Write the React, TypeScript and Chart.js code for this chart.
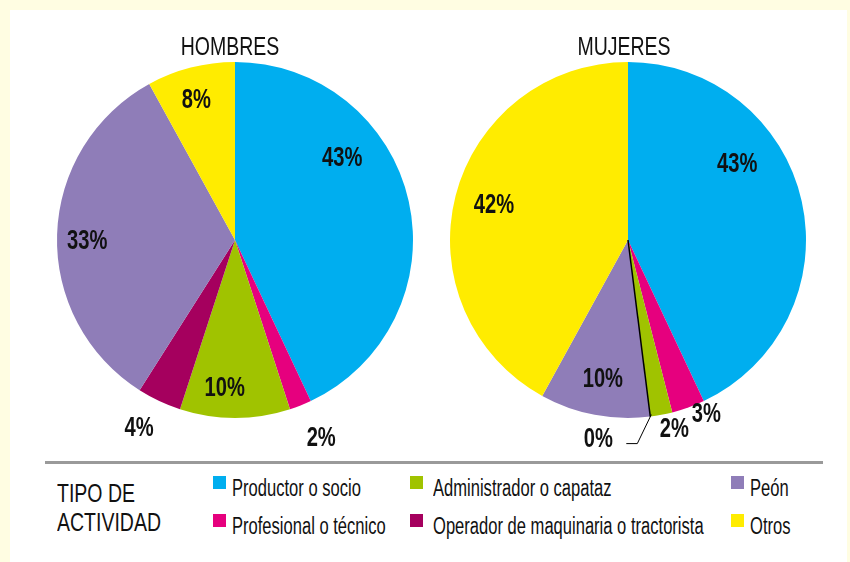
import React, { useEffect, useRef } from "react";
import { Chart, registerables } from "chart.js";

Chart.register(...registerables);

// ---------- data ----------
const categories = [
  "Productor o socio",
  "Profesional o técnico",
  "Administrador o capataz",
  "Operador de maquinaria o tractorista",
  "Peón",
  "Otros",
];
const hombresValues = [43, 2, 10, 4, 33, 8];
const mujeresValues = [43, 3, 2, 0, 10, 42];
const colors = ["#00AEEF", "#E6007E", "#A0C300", "#A5005E", "#8F7DB8", "#FFEC00"];
const chartTitles = ["HOMBRES", "MUJERES"];
const legendTitle = ["TIPO DE", "ACTIVIDAD"];
// legend layout order (row-major, 3 columns)
const legendOrder = [0, 2, 4, 1, 3, 5];

// label placement: angle shift (deg) from slice middle, radius factor
const hombresPlace = [
  { dA: -25, rF: 0.76 },
  { dA: -2, rF: 1.21 },
  { dA: 4, rF: 0.83 },
  { dA: 2, rF: 1.18 },
  { dA: -2, rF: 0.83 },
  { dA: -1, rF: 0.82 },
];
const mujeresPlace = [
  { dA: -22.5, rF: 0.75 },
  { dA: -4.5, rF: 1.07 },
  { dA: -3, rF: 1.09 },
  { leader: true },
  { dA: -0.5, rF: 0.79 },
  { dA: 0.7, rF: 0.78 },
];

const FONT = '"Liberation Sans", Arial, sans-serif';

const labelPlugin = {
  id: "pctLabels",
  afterDatasetsDraw(chart: any, _args: any, opts: any) {
    const ctx = chart.ctx as CanvasRenderingContext2D;
    const meta = chart.getDatasetMeta(0);
    const data = chart.data.datasets[0].data as number[];
    const place = opts.place as any[];
    meta.data.forEach((arc: any, i: number) => {
      const p = arc.getProps(["x", "y", "startAngle", "endAngle", "outerRadius"], true);
      const cfg = place[i];
      let x: number, y: number;
      let align: CanvasTextAlign = "center";
      if (data[i] === 0) {
        // zero slice drawn as a thin black line
        const a = p.startAngle;
        const ex = p.x + Math.cos(a) * p.outerRadius;
        const ey = p.y + Math.sin(a) * p.outerRadius;
        ctx.save();
        ctx.strokeStyle = "#000";
        ctx.lineWidth = 1.5;
        ctx.beginPath();
        ctx.moveTo(p.x, p.y);
        ctx.lineTo(ex, ey);
        ctx.stroke();
        if (cfg.leader) {
          ctx.lineWidth = 1;
          ctx.beginPath();
          ctx.moveTo(ex + 1, ey - 2);
          ctx.lineTo(ex - 13, ey + 27);
          ctx.lineTo(ex - 24, ey + 27);
          ctx.stroke();
        }
        ctx.restore();
        x = ex - 52;
        y = ey + 22;
      } else {
        const mid = (p.startAngle + p.endAngle) / 2;
        const a = mid + (cfg.dA * Math.PI) / 180;
        const r = p.outerRadius * cfg.rF;
        x = p.x + Math.cos(a) * r;
        y = p.y + Math.sin(a) * r;
      }
      ctx.save();
      ctx.translate(x, y);
      ctx.scale(0.72, 1);
      ctx.font = `bold 28px ${FONT}`;
      ctx.fillStyle = "#111";
      ctx.textAlign = align;
      ctx.textBaseline = "middle";
      ctx.fillText(`${data[i]}%`, 0, 1);
      ctx.restore();
    });
  },
};

function PieCanvas({ values, place, left }: { values: number[]; place: any[]; left: number }) {
  const ref = useRef<HTMLCanvasElement>(null);
  useEffect(() => {
    if (!ref.current) return;
    const chart = new Chart(ref.current, {
      type: "pie",
      data: {
        labels: categories,
        datasets: [
          {
            data: values,
            backgroundColor: colors,
            borderWidth: 0,
          },
        ],
      },
      options: {
        responsive: false,
        animation: false,
        events: [],
        layout: { padding: { left: 17, right: 17, top: 42, bottom: 37 } },
        plugins: {
          legend: { display: false },
          tooltip: { enabled: false },
          pctLabels: { place },
        } as any,
      },
      plugins: [labelPlugin as any],
    });
    return () => chart.destroy();
  }, []);
  return (
    <canvas
      ref={ref}
      width={390}
      height={435}
      style={{ position: "absolute", left, top: 20, width: 390, height: 435 }}
    />
  );
}

const scaled = (s: number): React.CSSProperties => ({
  position: "absolute",
  whiteSpace: "nowrap",
  transform: `scaleX(${s})`,
  transformOrigin: "left top",
  fontFamily: FONT,
  color: "#111",
});

export default function App() {
  const legendCols = [213, 410, 731];
  const legendRows = [476, 514];
  return (
    <div
      style={{
        position: "fixed",
        left: 0,
        top: 0,
        width: 850,
        height: 562,
        background: "#FFFDE2",
        overflow: "hidden",
      }}
    >
      <div
        style={{
          position: "absolute",
          left: 10,
          top: 10,
          width: 837,
          height: 552,
          background: "#FFFFFF",
        }}
      />
      <PieCanvas values={hombresValues} place={hombresPlace} left={40} />
      <PieCanvas values={mujeresValues} place={mujeresPlace} left={433} />
      {chartTitles.map((t, i) => (
        <div
          key={t}
          style={{
            position: "absolute",
            left: i === 0 ? 230 : 624,
            top: 34,
            fontSize: 25,
            lineHeight: "25px",
            whiteSpace: "nowrap",
            fontFamily: FONT,
            color: "#111",
            transform: "translateX(-50%) scaleX(0.78)",
            transformOrigin: "center top",
          }}
        >
          {t}
        </div>
      ))}
      <div
        style={{
          position: "absolute",
          left: 45,
          top: 461,
          width: 778,
          height: 3,
          background: "#9A9A9A",
        }}
      />
      {legendTitle.map((t, i) => (
        <div
          key={t}
          style={{ ...scaled(0.75), left: 57, top: 480 + i * 29, fontSize: 26, lineHeight: "26px" }}
        >
          {t}
        </div>
      ))}
      {legendOrder.map((ci, k) => {
        const col = k % 3;
        const row = Math.floor(k / 3);
        const x = legendCols[col];
        const y = legendRows[row];
        return (
          <React.Fragment key={ci}>
            <div
              style={{
                position: "absolute",
                left: x,
                top: y,
                width: 13,
                height: 13,
                background: colors[ci],
              }}
            />
            <div
              style={{
                ...scaled(0.72),
                left: x + (col === 1 ? 23 : 19),
                top: y + 0.5,
                fontSize: 23,
                lineHeight: "23px",
              }}
            >
              {categories[ci]}
            </div>
          </React.Fragment>
        );
      })}
    </div>
  );
}
